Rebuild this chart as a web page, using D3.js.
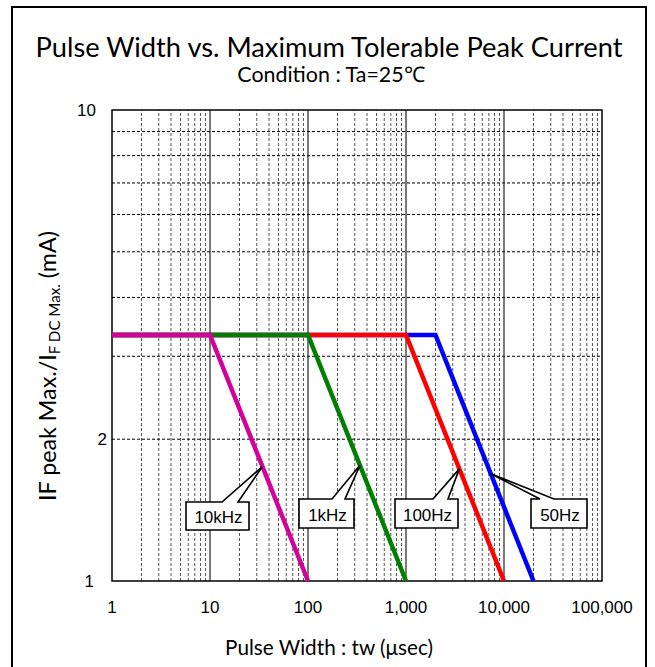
<!DOCTYPE html>
<html>
<head>
<meta charset="utf-8">
<script src="https://cdn.jsdelivr.net/npm/d3@7"></script>
<style>
  body { margin: 0; background: #fff; }
  svg { display: block; }
</style>
</head>
<body>
<div id="chart"></div>
<script>
// data
var freqLabels = ["50Hz", "100Hz", "1kHz", "10kHz"];
var lineColors = ["#0000ff", "#ff0000", "#008000", "#d4009a"];
var cornerWidth = [2000, 1000, 100, 10];     // end of flat part (usec)
var endWidth = [20000, 10000, 1000, 100];    // where the ratio drops to 1
var peakRatio = 3.33;
var tipRatio = [1.69, 1.73, 1.76, 1.75];     // where the callout points
var xTicks = [1, 10, 100, 1000, 10000, 100000];
var xTickLabels = ["1", "10", "100", "1,000", "10,000", "100,000"];
var yTicks = [1, 2, 10];

// callout boxes [x, y, w, h, tailA, tailB]
var boxes = [
  [531, 499, 56, 29, 540, 554],
  [395, 499, 63, 29, 433, 448],
  [299, 499, 55, 29, 332, 345],
  [186, 502, 63, 28, 222, 238]
];

var W = 655, H = 667;
var svg = d3.select("#chart").append("svg").attr("width", W).attr("height", H);

// outer frame (bottom is cut off)
svg.append("path")
  .attr("d", "M12," + (H + 5) + "V7H646V" + (H + 5))
  .attr("fill", "none").attr("stroke", "#000").attr("stroke-width", 2);

var x = d3.scaleLog().domain([1, 100000]).range([112, 602]);
var y = d3.scaleLog().domain([1, 10]).range([581, 110]);

var grid = svg.append("g");
// minor verticals
xTicks.slice(0, -1).forEach(function(d){
  for (var k = 2; k < 10; k++) {
    grid.append("line")
      .attr("x1", x(d * k)).attr("x2", x(d * k))
      .attr("y1", y(1)).attr("y2", y(10))
      .attr("stroke", "#555").attr("stroke-width", 1)
      .style("stroke-dasharray", "3,2");
  }
});
// horizontals
for (var k = 2; k < 10; k++) {
  grid.append("line")
    .attr("x1", x(1)).attr("x2", x(100000))
    .attr("y1", y(k)).attr("y2", y(k))
    .attr("stroke", "#000").attr("stroke-width", 1)
    .style("stroke-dasharray", "3,2");
}
// decade verticals
xTicks.slice(1, -1).forEach(function(d){
  grid.append("line")
    .attr("x1", x(d)).attr("x2", x(d))
    .attr("y1", y(1)).attr("y2", y(10))
    .attr("stroke", "#222").attr("stroke-width", 1.2);
});
// plot frame
svg.append("rect")
  .attr("x", x(1)).attr("y", y(10))
  .attr("width", x(100000) - x(1)).attr("height", y(1) - y(10))
  .attr("fill", "none").attr("stroke", "#000").attr("stroke-width", 1.5);

// tick labels
svg.selectAll("text.xt").data(xTicks).enter().append("text")
  .attr("class", "xt")
  .attr("x", function(d){ return x(d); })
  .attr("y", 613)
  .attr("text-anchor", "middle")
  .attr("font-family", "Liberation Sans, Arial, sans-serif")
  .attr("font-size", "17px")
  .text(function(d, i){ return xTickLabels[i]; });

var yLabelX = {1: 94, 2: 107, 10: 96};
svg.selectAll("text.yt").data(yTicks).enter().append("text")
  .attr("class", "yt")
  .attr("x", function(d){ return yLabelX[d]; })
  .attr("y", function(d){ return y(d) + 6; })
  .attr("text-anchor", "end")
  .attr("font-family", "Liberation Sans, Arial, sans-serif")
  .attr("font-size", "17px")
  .text(function(d){ return d; });

// curves
var line = d3.line().x(function(d){ return x(d[0]); }).y(function(d){ return y(d[1]); });
freqLabels.forEach(function(name, i){
  var pts = [[1, peakRatio], [cornerWidth[i], peakRatio], [endWidth[i], 1]];
  svg.append("path")
    .attr("d", line(pts))
    .attr("fill", "none")
    .attr("stroke", lineColors[i])
    .attr("stroke-width", 4.5)
    .attr("stroke-linejoin", "miter");
});

// callouts
freqLabels.forEach(function(name, i){
  // point on the falling segment at tipRatio
  var t = Math.log(peakRatio / tipRatio[i]) / Math.log(peakRatio);
  var lx = Math.log10(cornerWidth[i]) + t * (Math.log10(endWidth[i]) - Math.log10(cornerWidth[i]));
  var tx = x(Math.pow(10, lx)), ty = y(tipRatio[i]);
  var b = boxes[i];
  var g = svg.append("g");
  g.append("path")
    .attr("d", "M" + b[0] + "," + b[1] + "H" + b[4] + "L" + tx + "," + ty + "L" + b[5] + "," + b[1] +
      "H" + (b[0] + b[2]) + "V" + (b[1] + b[3]) + "H" + b[0] + "Z")
    .attr("fill", "#fff").attr("stroke", "#000").attr("stroke-width", 1.6)
    .attr("stroke-linejoin", "miter");
  g.append("text")
    .attr("x", b[0] + b[2] / 2 + 1).attr("y", b[1] + b[3] - 7)
    .attr("text-anchor", "middle")
    .attr("font-family", "Liberation Sans, Arial, sans-serif")
    .attr("font-size", "17px")
    .text(name);
});

// fit a text node to a given width
function fit(sel, size, width) {
  var w = sel.node().getComputedTextLength();
  sel.attr("font-size", (size * width / w) + "px");
}

var titleFont = "Lato, sans-serif";
var title = svg.append("text")
  .attr("x", 329).attr("y", 57)
  .attr("text-anchor", "middle")
  .attr("font-family", titleFont)
  .attr("font-size", "26px")
  .text("Pulse Width vs. Maximum Tolerable Peak Current");
fit(title, 26, 587);

var sub = svg.append("text")
  .attr("x", 331).attr("y", 82)
  .attr("text-anchor", "middle")
  .attr("font-family", titleFont)
  .attr("font-size", "18px")
  .text("Condition : Ta=25℃");
fit(sub, 18, 188);

var xt = svg.append("text")
  .attr("x", 329).attr("y", 655)
  .attr("text-anchor", "middle")
  .attr("font-family", titleFont)
  .attr("font-size", "18px")
  .text("Pulse Width : tw (μsec)");
fit(xt, 18, 208);

var yt = svg.append("text")
  .attr("transform", "translate(56,366) rotate(-90)")
  .attr("text-anchor", "middle")
  .attr("font-family", titleFont)
  .attr("font-size", "20px");
yt.append("tspan").text("IF peak Max./I");
yt.append("tspan").attr("font-size", "13px").attr("dy", 4).text("F DC Max.");
yt.append("tspan").attr("dy", -4).text(" (mA)");
var ytw = yt.node().getComputedTextLength();
var ys = 270 / ytw;
yt.attr("font-size", (20 * ys) + "px");
yt.select("tspan:nth-child(2)").attr("font-size", (13 * ys) + "px");
</script>
</body>
</html>
